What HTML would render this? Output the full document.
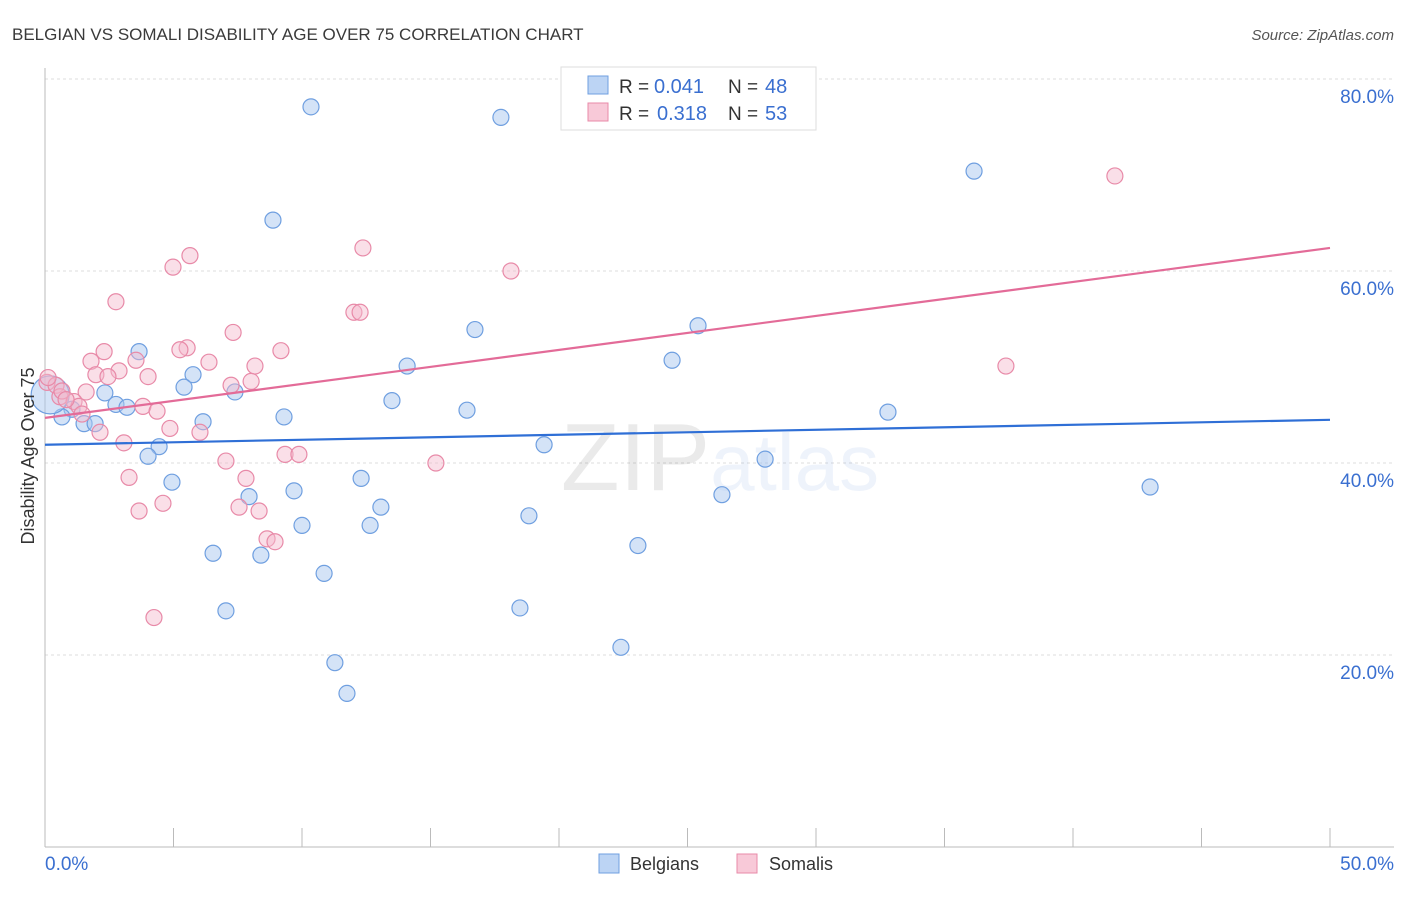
<!DOCTYPE html>
<html><head><meta charset="utf-8"><style>
body{margin:0;background:#fff;font-family:"Liberation Sans",sans-serif}
svg text{font-family:"Liberation Sans",sans-serif}
</style></head><body>
<svg id="chart" width="1406" height="892" viewBox="0 0 1406 892">
<text x="12" y="40" font-size="17" fill="#3a3a3a">BELGIAN VS SOMALI DISABILITY AGE OVER 75 CORRELATION CHART</text>
<text x="1394" y="40" font-size="15" fill="#555" text-anchor="end" font-style="italic">Source: ZipAtlas.com</text>
<g id="grid"></g>
<text x="720" y="490" font-size="96" text-anchor="middle" fill="#000" opacity="0.08" font-family="Liberation Serif">ZIP<tspan fill="#3a6fd0" opacity="1" font-family="Liberation Sans" font-size="80">atlas</tspan></text>
<g id="pts"></g>
<g id="lines"></g>
<text transform="translate(34,456) rotate(-90)" font-size="18" fill="#333" text-anchor="middle">Disability Age Over 75</text>
<g>
<rect x="561" y="67" width="255" height="63" fill="#fff" stroke="#ddd"/>
<rect x="588" y="76" width="20" height="18" fill="#bcd4f4" stroke="#6f9fe0"/>
<rect x="588" y="103" width="20" height="18" fill="#f8c9d8" stroke="#e88aa8"/>
<text x="619" y="93" font-size="19" fill="#333">R =</text>
<text x="654" y="93" font-size="20" fill="#3a6fd0">0.041</text>
<text x="728" y="93" font-size="19" fill="#333">N =</text>
<text x="765" y="93" font-size="20" fill="#3a6fd0">48</text>
<text x="619" y="120" font-size="19" fill="#333">R =</text>
<text x="657" y="120" font-size="20" fill="#3a6fd0">0.318</text>
<text x="728" y="120" font-size="19" fill="#333">N =</text>
<text x="765" y="120" font-size="20" fill="#3a6fd0">53</text>
</g>
<g>
<rect x="599" y="854" width="20" height="19" fill="#bcd4f4" stroke="#6f9fe0"/>
<text x="630" y="870" font-size="18" fill="#333">Belgians</text>
<rect x="737" y="854" width="20" height="19" fill="#f8c9d8" stroke="#e88aa8"/>
<text x="769" y="870" font-size="18" fill="#333">Somalis</text>
</g>
</svg>
<script>
const xTicks=[0,50];
const yTicks=[20,40,60,80];
const blueX=[10.35,17.74,36.15,8.87,25.41,16.73,3.66,24.4,14.09,5.76,5.41,7.39,2.33,13.5,2.76,3.19,1.05,16.42,32.8,0.66,9.3,6.15,1.52,1.95,19.42,4.44,4.01,28.02,12.3,4.94,9.69,7.94,26.34,43.0,13.07,18.83,10.0,12.65,23.07,6.54,8.4,10.86,18.48,7.04,22.41,11.28,11.75,0.2];
const blueY=[77.1,76.0,70.4,65.3,54.3,53.9,51.6,50.7,50.1,49.2,47.9,47.4,47.3,46.5,46.1,45.8,45.6,45.5,45.3,44.8,44.8,44.3,44.1,44.1,41.9,41.7,40.7,40.4,38.4,38.0,37.1,36.5,36.7,37.5,35.4,34.5,33.5,33.5,31.4,30.6,30.4,28.5,24.9,24.6,20.8,19.2,16.0,47.1];
const pinkX=[41.63,12.37,5.64,4.98,18.13,2.76,12.02,12.26,7.32,5.53,5.25,2.3,9.18,3.54,1.79,6.38,8.17,2.88,1.98,4.01,2.45,37.39,7.24,8.02,0.08,0.43,1.6,0.58,1.13,1.32,3.81,4.36,1.44,4.86,2.14,6.03,3.07,9.34,9.88,7.04,15.21,3.27,7.82,4.59,3.66,7.55,8.33,8.64,8.95,4.24,0.12,0.66,0.82];
const pinkY=[69.9,62.4,61.6,60.4,60.0,56.8,55.7,55.7,53.6,52.0,51.8,51.6,51.7,50.7,50.6,50.5,50.1,49.6,49.2,49.0,49.0,50.1,48.1,48.5,48.4,48.1,47.4,46.9,46.4,45.9,45.9,45.4,45.1,43.6,43.2,43.2,42.1,40.9,40.9,40.2,40.0,38.5,38.4,35.8,35.0,35.4,35.0,32.1,31.8,23.9,48.9,47.5,46.6];
const blueTrend=[41.9,44.5];
const pinkTrend=[44.7,62.4];
const NS='http://www.w3.org/2000/svg';
const sx=v=>45+v*25.7, sy=v=>847-v*9.6;
function mk(t,a,p){const e=document.createElementNS(NS,t);for(const k in a)e.setAttribute(k,a[k]);p.appendChild(e);return e;}
const g=document.getElementById('grid');
yTicks.forEach(v=>{const l=mk('line',{x1:45,x2:1394,y1:sy(v),y2:sy(v),stroke:'#ddd','stroke-dasharray':'3,3'},g);


const t=mk('text',{x:1394,y:sy(v)+24,'font-size':19,fill:'#3a6fd0','text-anchor':'end'},g);t.textContent=v.toFixed(1)+'%';

});
mk('line',{x1:45,x2:45,y1:68,y2:847,stroke:'#bbb'},g);
mk('line',{x1:45,x2:1394,y1:847,y2:847,stroke:'#bbb'},g);
for(let i=0;i<=10;i++){mk('line',{x1:sx(i*5),x2:sx(i*5),y1:828,y2:847,stroke:'#bbb'},g);}
xTicks.forEach((v,i)=>{const t=mk('text',{x:i?1394:45,y:870,'font-size':19,fill:'#3a6fd0','text-anchor':i?'end':'start'},g);t.textContent=v.toFixed(1)+'%';

});
const P=document.getElementById('pts');
blueX.forEach((x,i)=>{const c=mk('circle',{cx:sx(x),cy:sy(blueY[i]),r:i==blueX.length-1?19:8,fill:'#a9c8f0','fill-opacity':0.5,stroke:'#6f9fe0','stroke-width':1.2},P);

});
pinkX.forEach((x,i)=>{const c=mk('circle',{cx:sx(x),cy:sy(pinkY[i]),r:8,fill:'#f4b8cb','fill-opacity':0.45,stroke:'#e88aa8','stroke-width':1.2},P);

});
const L=document.getElementById('lines');
const b=mk('line',{x1:sx(0),x2:sx(50),y1:sy(blueTrend[0]),y2:sy(blueTrend[1]),stroke:'#2f6fd6','stroke-width':2.2},L);


const p=mk('line',{x1:sx(0),x2:sx(50),y1:sy(pinkTrend[0]),y2:sy(pinkTrend[1]),stroke:'#e36b98','stroke-width':2.2},L);


</script>
</body></html>
